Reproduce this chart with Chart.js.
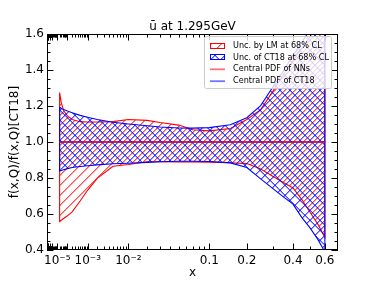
<!DOCTYPE html>
<html>
<head>
<meta charset="utf-8">
<script src="https://cdn.jsdelivr.net/npm/chart.js@4.4.1/dist/chart.umd.min.js"></script>
<style>
    html, body { margin: 0; padding: 0; background: #fff; }
    #wrap { width: 376px; height: 282px; }
</style>
</head>
<body>
<div id="wrap"><canvas id="chart" width="376" height="282"></canvas></div>
<script>
// values
const xValues = [2e-5, 3e-5, 5e-5, 1e-4, 2e-4, 5e-4, 1e-3, 2e-3, 5e-3, 0.01, 0.02, 0.03, 0.05, 0.07,
    0.1, 0.15, 0.2, 0.25, 0.3, 0.35, 0.4, 0.45, 0.5, 0.55, 0.6];
const lmUpper = [1.275, 1.22, 1.175, 1.145, 1.125, 1.113, 1.111, 1.111, 1.113, 1.125, 1.12, 1.108, 1.094, 1.068,
    1.062, 1.075, 1.125, 1.18, 1.28, 1.374, 1.452, 1.521, 1.586, 1.648, 1.705];
const lmLower = [0.558, 0.565, 0.575, 0.59, 0.612, 0.672, 0.733, 0.798, 0.865, 0.875, 0.89, 0.89, 0.889, 0.889,
    0.888, 0.885, 0.88, 0.85, 0.81, 0.775, 0.745, 0.68, 0.61, 0.545, 0.47];
const ct18Upper = [1.193, 1.188, 1.18, 1.172, 1.163, 1.148, 1.137, 1.125, 1.11, 1.1, 1.09, 1.083, 1.078, 1.077,
    1.08, 1.096, 1.135, 1.202, 1.304, 1.396, 1.479, 1.554, 1.624, 1.69, 1.752];
const ct18Lower = [0.839, 0.842, 0.846, 0.852, 0.858, 0.864, 0.868, 0.873, 0.879, 0.882, 0.887, 0.89, 0.893, 0.893,
    0.892, 0.884, 0.858, 0.795, 0.742, 0.695, 0.655, 0.58, 0.523, 0.46, 0.39];
const nnCentral = [1.0, 1.0, 1.0, 1.0, 1.0, 1.0, 1.0, 1.0, 1.0, 1.0, 1.0, 1.0, 1.0, 1.0,
    1.0, 1.0, 1.0, 1.0, 1.0, 1.0, 1.0, 1.0, 1.0, 1.0, 1.0];
const ct18Central = [1.0, 1.0, 1.0, 1.0, 1.0, 1.0, 1.0, 1.0, 1.0, 1.0, 1.0, 1.0, 1.0, 1.0,
    1.0, 1.0, 1.0, 1.0, 1.0, 1.0, 1.0, 1.0, 1.0, 1.0, 1.0];

const xTickValues = [1e-5, 1e-3, 1e-2, 0.1, 0.2, 0.4, 0.6];
const xTickLabels = ['10⁻⁵', '10⁻³', '10⁻²', '0.1', '0.2', '0.4', '0.6'];
const yTickValues = [0.4, 0.6, 0.8, 1.0, 1.2, 1.4, 1.6];
const legendLabels = ['Unc. by LM at 68% CL', 'Unc. of CT18 at 68% CL', 'Central PDF of NNs', 'Central PDF of CT18'];

const POWER = 0.3;
const FONT = 'DejaVu Sans';

// x axis is stretched like x^0.3 (log-ish at small x, more room at large x)
class PowerScale extends Chart.LinearScale {
    static id = 'power';
    static defaults = Chart.LinearScale.defaults;
    configure() {
        super.configure();
        this._uMin = Math.pow(Math.max(this.min, 0), POWER);
        this._uMax = Math.pow(this.max, POWER);
    }
    getPixelForValue(value) {
        const u = Math.pow(Math.max(value, 0), POWER);
        return this.getPixelForDecimal((u - this._uMin) / (this._uMax - this._uMin));
    }
    getValueForPixel(pixel) {
        const u = this._uMin + this.getDecimalForPixel(pixel) * (this._uMax - this._uMin);
        return Math.pow(u, 1 / POWER);
    }
}
Chart.register(PowerScale);

// hatch tile drawn pixel by pixel; shift moves the '/' lines so the two bands don't overlap
function makeHatch(rgb, cross, shift) {
    const s = 10;
    const c = document.createElement('canvas');
    c.width = s;
    c.height = s;
    const g = c.getContext('2d');
    const strong = 'rgba(' + rgb + ',0.7)';
    const soft = 'rgba(' + rgb + ',0.4)';
    for (let i = 0; i < s; i++) {
        const y1 = (s - 1 - i + shift) % s;
        g.fillStyle = strong;
        g.fillRect(i, y1, 1, 1);
        g.fillStyle = soft;
        g.fillRect(i, (y1 + 1) % s, 1, 1);
        if (cross) {
            g.fillStyle = strong;
            g.fillRect(i, i, 1, 1);
            g.fillStyle = soft;
            g.fillRect(i, (i + 1) % s, 1, 1);
        }
    }
    return g.createPattern(c, 'repeat');
}

const redHatch = makeHatch('255,0,0', false, 5);
const blueHatch = makeHatch('0,0,255', true, 0);

function bandPolygon(xs, upper, lower) {
    const pts = xs.map((x, i) => ({ x: x, y: upper[i] }));
    for (let i = xs.length - 1; i >= 0; i--) {
        pts.push({ x: xs[i], y: lower[i] });
    }
    pts.push({ x: xs[0], y: upper[0] });
    return pts;
}

function series(xs, ys) {
    return xs.map((x, i) => ({ x: x, y: ys[i] }));
}

// tick marks in matplotlib style (inward, on all four sides)
const xMajorMarks = [];
const xMinorMarks = [];
for (let d = -9; d <= -1; d++) {
    xMajorMarks.push(Math.pow(10, d));
    for (let k = 2; k <= 9; k++) {
        const v = k * Math.pow(10, d);
        if (v >= 0.7) continue;
        if (d === -1 && (k === 2 || k === 4 || k === 6)) xMajorMarks.push(v);
        else xMinorMarks.push(v);
    }
}
const yMinorMarks = [];
for (let i = 0; i <= 24; i++) {
    const v = 0.4 + i * 0.05;
    if (i % 4 !== 0) yMinorMarks.push(v);
}

const mplFrame = {
    id: 'mplFrame',
    afterDatasetsDraw(chart) {
        const { ctx, chartArea: a, scales } = chart;
        const xs = scales.x, ys = scales.y;
        ctx.save();
        ctx.strokeStyle = '#000';
        ctx.lineWidth = 1;
        const mark = (list, len) => {
            ctx.beginPath();
            list.forEach(v => {
                const px = Math.round(xs.getPixelForValue(v)) + 0.5;
                ctx.moveTo(px, a.bottom); ctx.lineTo(px, a.bottom - len);
                ctx.moveTo(px, a.top); ctx.lineTo(px, a.top + len);
            });
            ctx.stroke();
        };
        const markY = (list, len) => {
            ctx.beginPath();
            list.forEach(v => {
                const py = Math.round(ys.getPixelForValue(v)) + 0.5;
                ctx.moveTo(a.left, py); ctx.lineTo(a.left + len, py);
                ctx.moveTo(a.right, py); ctx.lineTo(a.right - len, py);
            });
            ctx.stroke();
        };
        mark(xMajorMarks, 6.5);
        mark(xMinorMarks, 3.5);
        markY(yTickValues, 6.5);
        markY(yMinorMarks, 3.5);
        ctx.strokeRect(a.left + 0.5, a.top + 0.5, a.right - a.left - 1, a.bottom - a.top - 1);

        // legend box, upper right
        const w = 127, h = 52;
        const lx = a.right - 7 - w, ly = a.top + 2;
        ctx.beginPath();
        ctx.roundRect(lx + 0.5, ly + 0.5, w, h, 2);
        ctx.fillStyle = 'rgba(255,255,255,0.8)';
        ctx.fill();
        ctx.strokeStyle = '#cccccc';
        ctx.stroke();

        const handleX = lx + 6, handleW = 15;
        const rowY = i => ly + 9.5 + i * 11.9;
        const patches = [[redHatch, 'red'], [blueHatch, 'blue']];
        patches.forEach(([pat, col], i) => {
            const y = Math.round(rowY(i));
            ctx.fillStyle = '#fff';
            ctx.fillRect(handleX, y - 3, handleW, 6);
            ctx.fillStyle = pat;
            ctx.fillRect(handleX, y - 3, handleW, 6);
            ctx.strokeStyle = col;
            ctx.lineWidth = 1;
            ctx.strokeRect(handleX + 0.5, y - 2.5, handleW - 1, 5);
        });
        const lineCols = ['rgba(255,0,0,0.55)', 'rgba(0,0,255,0.55)'];
        lineCols.forEach((col, i) => {
            const y = rowY(i + 2);
            ctx.strokeStyle = col;
            ctx.lineWidth = 1.8;
            ctx.beginPath();
            ctx.moveTo(handleX, y); ctx.lineTo(handleX + handleW, y);
            ctx.stroke();
        });
        ctx.fillStyle = '#000';
        ctx.font = '8.1px "' + FONT + '"';
        ctx.textBaseline = 'middle';
        ctx.textAlign = 'left';
        legendLabels.forEach((t, i) => ctx.fillText(t, handleX + handleW + 8, rowY(i)));
        ctx.restore();
    }
};

const ctx = document.getElementById('chart').getContext('2d');
new Chart(ctx, {
    type: 'line',
    data: {
        datasets: [
            {
                label: legendLabels[0],
                data: bandPolygon(xValues, lmUpper, lmLower),
                borderColor: 'red',
                borderWidth: 1.1,
                backgroundColor: redHatch,
                fill: 'shape',
                pointRadius: 0,
                tension: 0,
                order: 4
            },
            {
                label: legendLabels[1],
                data: bandPolygon(xValues, ct18Upper, ct18Lower),
                borderColor: 'blue',
                borderWidth: 1.1,
                backgroundColor: blueHatch,
                fill: 'shape',
                pointRadius: 0,
                tension: 0,
                order: 3
            },
            {
                label: legendLabels[3],
                data: series(xValues, ct18Central),
                borderColor: 'rgba(0,0,255,0.6)',
                borderWidth: 1.8,
                fill: false,
                pointRadius: 0,
                order: 2
            },
            {
                label: legendLabels[2],
                data: series(xValues, nnCentral),
                borderColor: 'rgba(255,0,0,0.6)',
                borderWidth: 1.8,
                fill: false,
                pointRadius: 0,
                order: 1
            }
        ]
    },
    options: {
        responsive: false,
        animation: false,
        events: [],
        layout: { padding: { left: 0, right: 38, top: 0, bottom: 0 } },
        plugins: {
            legend: { display: false },
            tooltip: { enabled: false },
            title: {
                display: true,
                text: 'ū at 1.295GeV',
                fullSize: false,
                color: '#000',
                font: { family: FONT, size: 12, weight: 'normal' },
                padding: { top: 19.6, bottom: 0 }
            }
        },
        scales: {
            x: {
                type: 'power',
                min: 0,
                max: 0.7,
                grid: { display: false, drawTicks: false },
                border: { display: false },
                afterBuildTicks: axis => { axis.ticks = xTickValues.map(v => ({ value: v })); },
                afterFit: axis => { axis.height = 32; },
                ticks: {
                    autoSkip: false,
                    maxRotation: 0,
                    padding: 3.5,
                    color: '#000',
                    font: { family: FONT, size: 12 },
                    callback: (value, index) => xTickLabels[index]
                },
                title: {
                    display: true,
                    text: 'x',
                    color: '#000',
                    font: { family: FONT, size: 12 },
                    padding: { top: 0, bottom: 1.8 }
                }
            },
            y: {
                min: 0.4,
                max: 1.6,
                grid: { display: false, drawTicks: false },
                border: { display: false },
                afterBuildTicks: axis => { axis.ticks = yTickValues.map(v => ({ value: v })); },
                afterFit: axis => { axis.width = 47; },
                ticks: {
                    autoSkip: false,
                    padding: 3,
                    color: '#000',
                    font: { family: FONT, size: 12 },
                    callback: value => Number(value).toFixed(1)
                },
                title: {
                    display: true,
                    text: 'f(x,Q)/f(x,Q)[CT18]',
                    color: '#000',
                    font: { family: FONT, size: 12 },
                    padding: { top: 7.8, bottom: 0 }
                }
            }
        }
    },
    plugins: [mplFrame]
});
</script>
</body>
</html>
